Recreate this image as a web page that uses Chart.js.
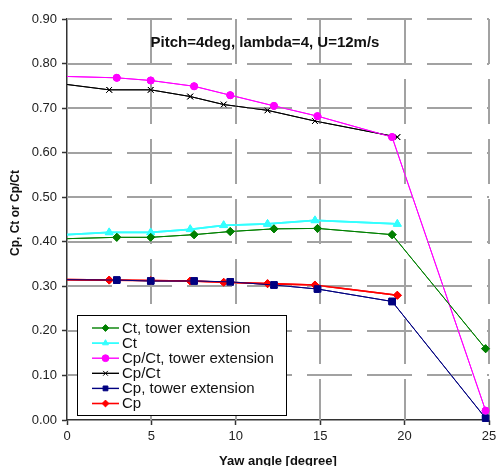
<!DOCTYPE html>
<html lang="en">
<head>
<meta charset="UTF-8">
<title>Cp, Ct vs yaw angle</title>
<script src="https://cdn.jsdelivr.net/npm/chart.js@4.4.1/dist/chart.umd.min.js"></script>
<style>
  html, body { margin: 0; padding: 0; background: #fff; }
  #yaw { display: block; }
</style>
</head>
<body>
<canvas id="yaw" width="496" height="466"></canvas>
<script>
// yaw angles [deg]; the tower extension runs sit at slightly different angles
var yawBase = [0, 2.5, 4.96, 7.3, 9.28, 11.88, 14.69, 19.57];
var yawExt  = [0, 2.95, 4.96, 7.53, 9.67, 12.26, 14.84, 19.26, 24.8];

var ctExt   = [0.407, 0.410, 0.410, 0.416, 0.423, 0.429, 0.430, 0.416, 0.160];
var ct      = [0.416, 0.421, 0.421, 0.428, 0.437, 0.440, 0.448, 0.440];
var cpctExt = [0.771, 0.768, 0.762, 0.749, 0.729, 0.705, 0.682, 0.635, 0.021];
var cpct    = [0.753, 0.741, 0.741, 0.726, 0.708, 0.695, 0.671, 0.635];
var cpExt   = [0.315, 0.314, 0.312, 0.312, 0.310, 0.303, 0.294, 0.266, 0.004];
var cp      = [0.315, 0.314, 0.313, 0.312, 0.309, 0.306, 0.303, 0.280];

var seriesNames = ['Ct, tower extension', 'Ct', 'Cp/Ct, tower extension', 'Cp/Ct', 'Cp, tower extension', 'Cp'];
var xTicks = [0, 5, 10, 15, 20, 25];
var yTicks = [0, 0.1, 0.2, 0.3, 0.4, 0.5, 0.6, 0.7, 0.8, 0.9];

var FONT = "'Liberation Sans', Arial, Helvetica, sans-serif";

function pts(xs, ys) {
    return ys.map(function (y, i) { return { x: xs[i], y: y }; });
}

// first sample sits on the axis with no marker
function markerAt(r) {
    return function (c) { return (c.raw && c.raw.x === 0) ? 0 : r; };
}

function series(i, xs, ys, color, style, r, width) {
    return {
        label: seriesNames[i],
        data: pts(xs, ys),
        showLine: true,
        fill: false,
        borderColor: color,
        backgroundColor: color,
        borderWidth: width,
        pointStyle: style,
        pointRadius: markerAt(r),
        pointBorderWidth: 1,
        pointBorderColor: color,
        pointBackgroundColor: color
    };
}

var datasets = [
    series(0, yawExt,  ctExt,   '#008000', 'rectRot',  4,   1),
    series(1, yawBase, ct,      '#33ffff', 'triangle', 4.5, 1.8),
    series(2, yawExt,  cpctExt, '#ff00ff', 'circle',   3.5, 1),
    series(3, yawBase, cpct,    '#000000', 'crossRot', 4,   1),
    series(4, yawExt,  cpExt,   '#000080', 'rect',     4.6, 1),
    series(5, yawBase, cp,      '#ff0000', 'rectRot',  4,   1.6)
];

function drawMarker(ctx, ds, x, y, r) {
    ctx.save();
    ctx.fillStyle = ds.backgroundColor;
    ctx.strokeStyle = ds.borderColor;
    ctx.lineWidth = 1;
    Chart.helpers.drawPoint(ctx, { pointStyle: ds.pointStyle, radius: r, rotation: 0, borderWidth: 1 }, x, y);
    ctx.restore();
}

// long-dash grid built from filled segments: 45px on, 15px off
function drawGrid(chart) {
    var ctx = chart.ctx;
    var a = chart.chartArea;
    var x0 = xTicks[0], x1 = xTicks[xTicks.length - 1];
    var y0 = yTicks[0], y1 = yTicks[yTicks.length - 1];
    var on = 45, off = 15, d, len;
    ctx.save();
    ctx.fillStyle = '#a2a2a2';
    yTicks.forEach(function (v) {
        if (v === y0) return;
        var py = Math.round(a.bottom - (v - y0) / (y1 - y0) * (a.bottom - a.top));
        for (d = 0; d < a.right - a.left; d += on + off) {
            len = Math.min(on, a.right - a.left - d);
            ctx.fillRect(Math.round(a.left + d), py - 1, Math.round(len), 2);
        }
    });
    xTicks.forEach(function (v) {
        if (v === x0) return;
        var px = Math.round(a.left + (v - x0) / (x1 - x0) * (a.right - a.left));
        for (d = 0; d < a.bottom - a.top; d += on + off) {
            len = Math.min(on, a.bottom - a.top - d);
            ctx.fillRect(px - 1, Math.round(a.top + d), 2, Math.round(len));
        }
    });
    ctx.restore();
}

var decorations = {
    id: 'decorations',
    afterDraw: function (chart) {
        var ctx = chart.ctx;
        var area = chart.chartArea;

        // grid, then the series again on top of it
        drawGrid(chart);
        for (var k = chart.data.datasets.length - 1; k >= 0; k--) {
            var meta = chart.getDatasetMeta(k);
            if (meta && meta.controller && meta.controller.draw) meta.controller.draw();
        }

        ctx.save();
        ctx.fillStyle = '#111';

        ctx.font = 'bold 15px ' + FONT;
        ctx.textAlign = 'center';
        ctx.textBaseline = 'middle';
        ctx.fillText('Pitch=4deg, lambda=4, U=12m/s', 265, 43);

        ctx.font = 'bold 13px ' + FONT;
        ctx.textBaseline = 'alphabetic';
        ctx.fillText('Yaw angle [degree]', (area.left + area.right) / 2, 465);

        ctx.save();
        ctx.translate(16, 213);
        ctx.rotate(-Math.PI / 2);
        ctx.font = 'bold 12px ' + FONT;
        ctx.textBaseline = 'middle';
        ctx.fillText('Cp, Ct or Cp/Ct', 0, 0);
        ctx.restore();

        // legend
        var bx = 77.5, by = 315.5, bw = 209, bh = 100;
        ctx.fillStyle = '#fff';
        ctx.fillRect(bx, by, bw, bh);
        ctx.strokeStyle = '#000';
        ctx.lineWidth = 1;
        ctx.strokeRect(bx, by, bw, bh);

        ctx.font = '15px ' + FONT;
        ctx.textAlign = 'left';
        ctx.textBaseline = 'middle';
        chart.data.datasets.forEach(function (ds, i) {
            var y = 328 + i * 15.1;
            ctx.strokeStyle = ds.borderColor;
            ctx.lineWidth = Math.max(ds.borderWidth, 1.4);
            ctx.beginPath();
            ctx.moveTo(92, y);
            ctx.lineTo(119, y);
            ctx.stroke();
            drawMarker(ctx, ds, 105.5, y, 3.4);
            ctx.fillStyle = '#111';
            ctx.fillText(ds.label, 122, y + 0.5);
        });
        ctx.restore();
    }
};

new Chart(document.getElementById('yaw'), {
    type: 'scatter',
    data: { datasets: datasets },
    options: {
        responsive: false,
        animation: false,
        events: [],
        layout: { padding: { top: 19, right: 7 } },
        plugins: {
            legend: { display: false },
            tooltip: { enabled: false }
        },
        scales: {
            x: {
                min: xTicks[0],
                max: xTicks[xTicks.length - 1],
                afterBuildTicks: function (s) { s.ticks = xTicks.map(function (v) { return { value: v }; }); },
                ticks: { color: '#222', font: { family: FONT, size: 13 }, padding: 4, maxRotation: 0 },
                grid: { drawOnChartArea: false, tickLength: 5, tickColor: '#333', tickWidth: 1.5 },
                border: { color: '#333', width: 1.5 },
                afterFit: function (s) { s.height = 46; s.paddingRight = 0; s.paddingLeft = 0; }
            },
            y: {
                min: yTicks[0],
                max: yTicks[yTicks.length - 1],
                afterBuildTicks: function (s) { s.ticks = yTicks.map(function (v) { return { value: v }; }); },
                ticks: {
                    color: '#222',
                    font: { family: FONT, size: 13 },
                    padding: 5,
                    callback: function (v) { return Number(v).toFixed(2); }
                },
                grid: { drawOnChartArea: false, tickLength: 5, tickColor: '#333', tickWidth: 1.5 },
                border: { color: '#333', width: 1.5 },
                afterFit: function (s) { s.width = 67; s.paddingTop = 0; s.paddingBottom = 0; }
            }
        }
    },
    plugins: [decorations]
});
</script>
</body>
</html>
